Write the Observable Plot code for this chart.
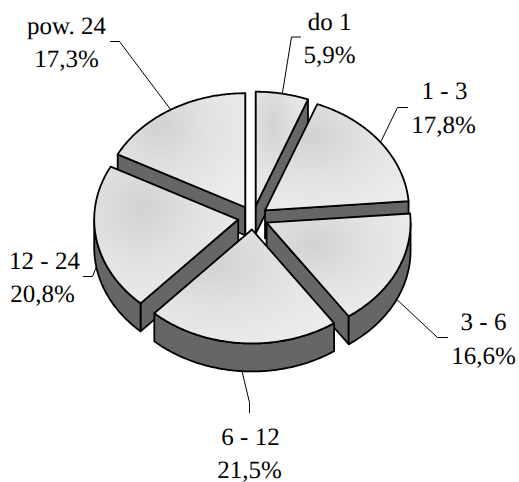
<!DOCTYPE html>
<html>
<head>
<meta charset="utf-8">
<script src="https://cdn.jsdelivr.net/npm/d3@7"></script>
<script src="https://cdn.jsdelivr.net/npm/@observablehq/plot@0.6"></script>
<style>html,body{margin:0;padding:0;background:#fff}svg{display:block}svg text{text-rendering:geometricPrecision}</style>
</head>
<body>
<div id="chart"></div>
<script>
// Data
const categories = ["do 1", "1 - 3", "3 - 6", "6 - 12", "12 - 24", "pow. 24"];
const shares = [5.9, 17.8, 16.6, 21.5, 20.8, 17.3];
const shareLabels = ["5,9%", "17,8%", "16,6%", "21,5%", "20,8%", "17,3%"];

// Layout of the projected pie, in pixels of the identity scales
const W = 519, H = 482;
const cx = 252.5, cy = 217, rx = 144, ry = 114, depth = 28, explodeX = 15, explodeY = 12;
const nameAt  = [[329, 29], [444, 98], [483, 329], [250, 444], [44, 268], [66, 33]];
const shareAt = [[329, 62], [443, 132], [483, 363], [249, 477], [42, 301], [66, 66]];
const elbowAt = [[291, 36.5], [397, 107], [437, 337], [249, 402], [92, 276], [119, 41]];
const tipAt   = [[300, 36.5], [407, 107], [447, 337], [249, 412], [83, 276], [110, 41]];

const arcs = d3.pie().sort(null).startAngle(0).endAngle(2 * Math.PI)(shares);
const slices = arcs.map((a, i) => {
  const mid = (a.startAngle + a.endAngle) / 2;
  const ox = cx + explodeX * Math.sin(mid);
  const oy = cy - explodeY * Math.cos(mid);
  const at = (t, dz = 0) => ({x: ox + rx * Math.sin(t), y: oy - ry * Math.cos(t) + dz});
  const sweep = (a0, a1, dz = 0) => {
    const n = Math.max(1, Math.ceil(Math.abs(a1 - a0) / 0.01));
    return d3.range(n + 1).map(k => at(a0 + (a1 - a0) * k / n, dz));
  };
  const apex = {x: ox, y: oy};
  const down = p => ({x: p.x, y: p.y + depth});
  const walls = [];
  // radial walls that face the viewer
  for (const [t, sign] of [[a.startAngle, -1], [a.endAngle, 1]]) {
    if (sign * Math.sin(t) > -1e-3) {
      const p = at(t);
      walls.push([apex, p, down(p), down(apex), apex]);
    }
  }
  // outer rim, front half only
  const r0 = Math.max(a.startAngle, Math.PI / 2), r1 = Math.min(a.endAngle, 3 * Math.PI / 2);
  if (r1 > r0) {
    const top = sweep(r0, r1);
    walls.push([...top, ...top.slice().reverse().map(down), top[0]]);
  }
  const face = [apex, ...sweep(a.startAngle, a.endAngle), apex];
  const rim = at(mid, Math.cos(mid) < 0 ? depth : 0);
  return {i, mid, walls, face, rim};
});

const painter = slices.slice().sort((p, q) => Math.cos(q.mid) - Math.cos(p.mid));
const sliceMarks = painter.flatMap(s => [
  ...s.walls.map(w => Plot.line(w, {x: "x", y: "y", fill: "#666666", stroke: "#000", strokeWidth: 1.8})),
  Plot.line(s.face, {x: "x", y: "y", fill: "url(#faceShade)", stroke: "#000", strokeWidth: 1.8})
]);
const leaders = slices.map(s => Plot.line(
  [s.rim, {x: elbowAt[s.i][0], y: elbowAt[s.i][1]}, {x: tipAt[s.i][0], y: tipAt[s.i][1]}],
  {x: "x", y: "y", stroke: "#000", strokeWidth: 1}
));

const textStyle = {
  fontFamily: "'Liberation Serif', serif", fontSize: 25, fill: "#000",
  textAnchor: "middle", lineAnchor: "bottom"
};
const shade = () => {
  const defs = d3.create("svg:defs");
  const g = defs.append("radialGradient").attr("id", "faceShade")
    .attr("cx", 0.33).attr("cy", 0.3).attr("r", 0.8);
  g.append("stop").attr("offset", "0%").attr("stop-color", "#d2d2d2");
  g.append("stop").attr("offset", "50%").attr("stop-color", "#e2e2e2");
  g.append("stop").attr("offset", "100%").attr("stop-color", "#ececec");
  return defs.node();
};

const chart = Plot.plot({
  width: W, height: H,
  marginTop: 0, marginRight: 0, marginBottom: 0, marginLeft: 0,
  style: {background: "#fff", overflow: "visible"},
  x: {domain: [0, W], range: [0, W], axis: null},
  y: {domain: [0, H], range: [0, H], axis: null},
  marks: [
    shade,
    ...sliceMarks,
    ...leaders,
    Plot.text(categories, {...textStyle, x: (_, i) => nameAt[i][0], y: (_, i) => nameAt[i][1], text: d => d}),
    Plot.text(shareLabels, {...textStyle, x: (_, i) => shareAt[i][0], y: (_, i) => shareAt[i][1], text: d => d})
  ]
});
document.getElementById("chart").append(chart);
</script>
</body>
</html>
